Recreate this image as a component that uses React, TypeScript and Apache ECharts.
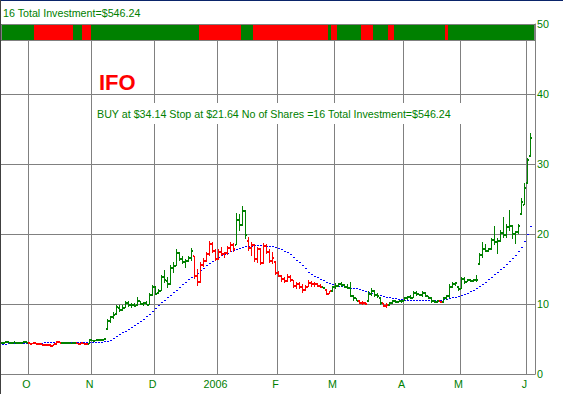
import React, { useEffect, useRef } from 'react';
import * as echarts from 'echarts';

// ---- axis / tick data ----
const slotCount = 178; // trading-day slots on the x axis
const monthStartIdx = [9, 30, 51, 72, 92, 111, 134, 153, 175];
const monthLabels = ['O', 'N', 'D', '2006', 'F', 'M', 'A', 'M', 'J'];
const yTicks = [0, 10, 20, 30, 40, 50];

// ---- price bars (one per trading day) ----
const opens = [
  4.4, 4.5, 4.6, 4.45, 4.5, 4.4, 4.45, 4.5, 4.6, 4.5,
  4.35, 4.4, 4.3, 4.35, 4.2, 4.1, 4.15, 4.0, 4.25, 4.6,
  4.5, 4.45, 4.5, 4.4, 4.45, 4.4, 4.3, 4.4, 4.3, 4.3,
  4.8, 4.75, 4.8, 4.85, 4.9, 6.5, 7.6, 8.1, 8.6, 9.4,
  9.2, 9.5, 10.2, 9.8, 9.9, 9.8, 10.4, 10.0, 10.1, 9.9,
  11.3, 12.4, 11.6, 11.9, 13.8, 13.3, 12.8, 15.2, 15.5, 17.3,
  16.4, 16.0, 16.2, 16.6, 16.8, 14.0, 13.2, 15.6, 16.2, 17.1,
  18.6, 17.6, 16.5, 17.4, 17.2, 17.3, 18.0, 18.5, 18.5, 22.0,
  21.3, 23.3, 19.0, 18.0, 18.5, 16.4, 17.8, 15.8, 18.3, 17.5,
  16.1, 16.0, 14.5, 14.0, 13.6, 13.3, 13.9, 13.4, 12.6, 12.9,
  12.4, 12.0, 12.5, 13.0, 12.8, 12.9, 12.6, 12.4, 12.0, 11.5,
  11.8, 12.4, 12.6, 12.8, 12.7, 12.5, 12.3, 11.2, 10.8, 10.5,
  10.2, 10.1, 10.4, 11.5, 11.9, 11.3, 10.8, 10.1, 9.7, 9.8,
  10.2, 10.4, 10.3, 10.4, 10.5, 10.8, 11.0, 10.9, 11.6, 11.4,
  11.3, 11.6, 11.1, 10.9, 10.4, 10.3, 10.4, 10.3, 10.8, 11.1,
  12.5, 12.9, 12.5, 12.2, 13.6, 13.2, 13.4, 13.3, 13.5, 15.7,
  17.0, 17.8, 17.6, 17.8, 19.2, 18.9, 19.0, 20.2, 19.8, 21.0,
  21.2, 20.0, 20.3, 22.8, 24.2, 27.3, 31.1,
];
const highs = [
  4.6, 4.7, 4.75, 4.6, 4.7, 4.55, 4.55, 4.65, 4.7, 4.55,
  4.5, 4.6, 4.45, 4.5, 4.3, 4.25, 4.3, 4.3, 4.7, 4.75,
  4.6, 4.55, 4.6, 4.5, 4.6, 4.5, 4.45, 4.5, 4.4, 4.95,
  4.9, 4.85, 4.95, 5.0, 5.1, 7.9, 8.3, 8.8, 9.9, 9.9,
  9.8, 10.5, 10.4, 10.1, 10.2, 11.0, 10.5, 10.3, 10.4, 11.6,
  12.7, 12.6, 12.1, 14.2, 14.9, 13.8, 15.6, 16.0, 17.8, 17.5,
  16.9, 16.4, 16.9, 18.0, 16.9, 15.0, 16.0, 16.6, 17.5, 19.0,
  18.9, 17.9, 17.8, 18.2, 17.5, 18.3, 18.9, 18.7, 23.0, 22.8,
  24.0, 23.5, 19.6, 18.8, 18.6, 18.2, 18.0, 18.7, 18.6, 17.8,
  17.5, 16.1, 14.7, 14.2, 13.8, 14.3, 14.2, 13.5, 13.2, 13.1,
  12.8, 12.7, 13.4, 13.3, 13.1, 13.0, 12.8, 12.5, 12.1, 11.9,
  12.6, 13.0, 13.0, 13.1, 12.9, 12.8, 13.2, 11.3, 10.9, 10.6,
  10.4, 10.3, 11.8, 12.3, 12.0, 11.6, 11.0, 10.2, 10.1, 10.3,
  10.6, 10.6, 10.5, 10.6, 11.0, 11.2, 11.3, 11.8, 11.8, 11.5,
  11.8, 11.7, 11.2, 11.0, 10.6, 10.6, 10.5, 11.0, 11.3, 12.8,
  13.1, 13.2, 12.6, 13.9, 13.9, 13.6, 13.6, 13.6, 14.2, 17.3,
  18.9, 18.6, 18.0, 19.5, 21.1, 19.5, 20.6, 22.5, 21.4, 23.5,
  21.3, 20.5, 21.5, 25.2, 27.3, 30.9, 34.4,
];
const lows = [
  4.3, 4.4, 4.4, 4.35, 4.4, 4.3, 4.35, 4.4, 4.45, 4.3,
  4.25, 4.3, 4.2, 4.15, 4.0, 3.95, 3.9, 3.95, 4.2, 4.4,
  4.35, 4.3, 4.35, 4.3, 4.35, 4.25, 4.2, 4.25, 4.2, 4.25,
  4.65, 4.65, 4.7, 4.75, 4.8, 6.3, 7.3, 7.9, 8.5, 8.9,
  9.0, 9.4, 9.6, 9.5, 9.6, 9.7, 9.8, 9.7, 9.8, 9.8,
  11.2, 11.3, 11.5, 11.8, 13.0, 12.3, 12.7, 14.4, 15.4, 16.1,
  15.7, 15.1, 16.0, 16.1, 13.6, 12.6, 13.0, 15.3, 16.0, 16.9,
  17.3, 16.2, 16.3, 16.9, 16.6, 17.0, 17.5, 17.4, 18.4, 20.4,
  21.2, 19.3, 17.6, 16.8, 16.0, 15.9, 15.6, 15.7, 17.1, 15.9,
  15.7, 14.2, 13.8, 13.2, 13.0, 13.1, 13.2, 12.3, 12.2, 12.2,
  11.6, 11.8, 12.4, 12.5, 12.4, 12.4, 12.3, 12.2, 11.3, 11.4,
  11.7, 12.1, 12.4, 12.5, 12.3, 12.1, 11.0, 10.5, 10.4, 10.0,
  9.9, 9.8, 10.3, 11.1, 11.0, 10.9, 9.9, 9.6, 9.5, 9.7,
  10.0, 10.1, 10.1, 10.2, 10.4, 10.6, 10.7, 10.8, 11.2, 11.1,
  11.0, 11.0, 10.7, 10.2, 10.1, 10.1, 10.2, 10.2, 10.6, 10.9,
  12.3, 12.6, 11.9, 12.1, 12.9, 13.1, 13.1, 13.1, 13.1, 15.6,
  16.6, 17.4, 17.4, 17.7, 18.5, 17.2, 18.9, 19.5, 19.5, 20.4,
  19.3, 18.6, 20.0, 22.7, 24.1, 27.2, 31.0,
];
const closes = [
  4.5, 4.6, 4.45, 4.5, 4.4, 4.45, 4.5, 4.6, 4.5, 4.35,
  4.4, 4.3, 4.35, 4.2, 4.1, 4.15, 4.0, 4.25, 4.6, 4.5,
  4.45, 4.5, 4.4, 4.45, 4.4, 4.3, 4.4, 4.3, 4.25, 4.8,
  4.75, 4.8, 4.85, 4.9, 5.0, 7.6, 8.1, 8.5, 9.6, 9.2,
  9.5, 10.2, 9.8, 9.9, 9.7, 10.4, 10.0, 10.1, 9.9, 11.3,
  12.5, 11.5, 11.9, 13.8, 13.4, 12.8, 15.2, 15.5, 17.3, 16.4,
  16.0, 16.2, 16.6, 17.6, 14.0, 13.2, 15.6, 16.2, 17.1, 18.6,
  17.6, 16.5, 17.4, 17.2, 17.3, 18.0, 18.5, 17.9, 22.0, 21.3,
  23.3, 19.8, 18.0, 18.5, 16.4, 17.8, 15.8, 18.3, 17.5, 16.1,
  16.6, 14.5, 14.0, 13.6, 13.3, 13.9, 13.4, 12.6, 12.9, 12.4,
  12.0, 12.5, 13.0, 12.8, 12.9, 12.6, 12.4, 12.3, 11.5, 11.8,
  12.4, 12.6, 12.8, 12.7, 12.5, 12.3, 11.2, 10.8, 10.5, 10.2,
  10.1, 10.0, 11.5, 11.9, 11.3, 11.1, 10.1, 9.7, 9.8, 10.2,
  10.4, 10.3, 10.4, 10.5, 10.8, 11.0, 10.9, 11.6, 11.4, 11.3,
  11.6, 11.1, 10.9, 10.4, 10.3, 10.4, 10.3, 10.8, 11.1, 12.5,
  12.9, 13.0, 12.2, 13.6, 13.2, 13.4, 13.3, 13.5, 13.4, 17.0,
  17.8, 17.6, 17.8, 19.2, 18.9, 19.0, 20.2, 19.8, 21.0, 21.2,
  20.0, 20.3, 21.2, 24.6, 26.6, 30.6, 33.7,
];

// ---- moving average (blue dotted line) ----
const movingAvg = [
  4.2, 4.21, 4.22, 4.23, 4.24, 4.25, 4.26, 4.27, 4.28, 4.3,
  4.31, 4.32, 4.33, 4.35, 4.37, 4.38, 4.4, 4.4, 4.41, 4.41,
  4.41, 4.42, 4.42, 4.42, 4.42, 4.42, 4.42, 4.42, 4.42, 4.42,
  4.43, 4.44, 4.45, 4.48, 4.52, 4.58, 4.75, 5.0, 5.3, 5.55,
  5.8, 6.05, 6.3, 6.6, 6.85, 7.15, 7.45, 7.75, 8.1, 8.5,
  8.9, 9.25, 9.65, 10.1, 10.5, 10.85, 11.2, 11.55, 11.9, 12.25,
  12.7, 13.05, 13.4, 13.75, 14.05, 14.35, 14.7, 15.05, 15.4, 15.75,
  16.0, 16.25, 16.55, 16.8, 17.0, 17.2, 17.4, 17.6, 17.75, 17.9,
  18.0, 18.1, 18.2, 18.2, 18.25, 18.25, 18.25, 18.25, 18.2, 18.2,
  18.1, 18.0, 17.85, 17.7, 17.5, 17.3, 17.0, 16.6, 16.2, 15.85,
  15.4, 14.95, 14.5, 14.15, 13.9, 13.65, 13.45, 13.25, 13.0, 12.8,
  12.65, 12.55, 12.5, 12.4, 12.35, 12.3, 12.2, 12.15, 12.1, 12.0,
  11.85, 11.7, 11.55, 11.45, 11.35, 11.2, 11.1, 11.0, 10.9, 10.85,
  10.75, 10.65, 10.6, 10.55, 10.5, 10.5, 10.45, 10.45, 10.45, 10.45,
  10.45, 10.45, 10.45, 10.45, 10.45, 10.45, 10.5, 10.55, 10.6, 10.7,
  10.8, 10.9, 11.05, 11.2, 11.35, 11.5, 11.65, 11.85, 12.1, 12.4,
  12.7, 13.05, 13.4, 13.75, 14.15, 14.5, 14.85, 15.2, 15.6, 16.0,
  16.4, 16.9, 17.4, 18.0, 18.9, 19.8, 21.0,
];

// ---- signal ranges (bar index ranges that are red / bearish) ----
const barRedRanges = [[9, 19], [25, 28], [64, 77], [82, 106], [108, 109], [119, 121], [127, 128], [146, 146]];
const stripRedRanges = [[11, 23], [27, 29], [66, 79], [84, 108], [110, 111], [120, 123], [129, 130], [148, 148]];
const stripTop = 50;
const stripBottom = 47.6;

// ---- texts ----
const headerText = '16 Total Investment=$546.24';
const tickerText = 'IFO';
const signalText = 'BUY at $34.14 Stop at $21.64 No of Shares =16 Total Investment=$546.24';

const GREEN = '#008000';
const RED = '#ff0000';
const GRID = '#808080';
const FONT = '"Liberation Sans", Arial, sans-serif';

const inRanges = (i: number, ranges: number[][]) => ranges.some(([a, b]) => i >= a && i <= b);

export default function App() {
  const ref = useRef<HTMLDivElement>(null);

  useEffect(() => {
    if (!ref.current) return;
    const chart = echarts.init(ref.current, undefined, { renderer: 'svg' });
    const categories = Array.from({ length: slotCount }, (_, i) => String(i));
    const isMonthStart = (idx: number) => monthStartIdx.includes(idx);

    const option: any = {
      animation: false,
      backgroundColor: '#ffffff',
      grid: { left: 1, right: 28, top: 24, bottom: 20, show: false },
      xAxis: {
        type: 'category',
        data: categories,
        boundaryGap: true,
        axisLine: { show: true, lineStyle: { color: GRID, width: 1 } },
        axisTick: { show: false },
        splitLine: { show: true, interval: (idx: number) => isMonthStart(idx), lineStyle: { color: GRID, width: 1 } },
        axisLabel: {
          interval: (idx: number) => isMonthStart(idx),
          formatter: (_v: string, idx: number) => {
            const k = monthStartIdx.indexOf(idx);
            return k >= 0 ? monthLabels[k] : '';
          },
          color: GREEN,
          fontFamily: FONT,
          fontSize: 10.7,
          margin: 4,
          padding: [0, 6, 0, 0],
        },
      },
      yAxis: {
        type: 'value',
        position: 'right',
        min: yTicks[0],
        max: yTicks[yTicks.length - 1],
        interval: 10,
        axisLine: { show: true, lineStyle: { color: GRID, width: 1 } },
        axisTick: { show: false },
        splitLine: { show: true, lineStyle: { color: GRID, width: 1 } },
        axisLabel: { color: GREEN, fontFamily: FONT, fontSize: 10.7, margin: 2 },
      },
      series: [
        {
          type: 'custom',
          name: 'strip',
          z: 3,
          data: categories.map((_, j) => [j, stripTop, stripBottom]),
          encode: { x: 0, y: [1, 2] },
          renderItem: (params: any, api: any) => {
            const j = api.value(0);
            const pT = api.coord([j, api.value(1)]);
            const pB = api.coord([j, api.value(2)]);
            const w = api.size([1, 0])[0];
            const children: any[] = [
              {
                type: 'rect',
                shape: { x: pT[0] - w / 2, y: pT[1], width: w, height: pB[1] - pT[1] },
                style: { fill: inRanges(j, stripRedRanges) ? RED : GREEN },
              },
            ];
            if (j === slotCount - 1) {
              const cs = params.coordSys;
              children.push({
                type: 'rect',
                shape: { x: cs.x + 0.5, y: Math.round(pT[1]) + 0.5, width: cs.width - 1, height: Math.round(pB[1] - pT[1]) - 1 },
                style: { fill: 'none', stroke: GRID, lineWidth: 1 },
              });
            }
            return { type: 'group', children };
          },
        },
        {
          type: 'custom',
          name: 'MA',
          z: 4,
          data: movingAvg.map((v, i) => [i, v]),
          encode: { x: 0, y: 1 },
          renderItem: (_params: any, api: any) => {
            const p = api.coord([api.value(0), api.value(1)]);
            const x0 = Math.floor(p[0]);
            return {
              type: 'rect',
              shape: { x: x0, y: Math.round(p[1]) - 1, width: 2, height: 1 },
              style: { fill: '#0000ff' },
            };
          },
        },
        {
          type: 'custom',
          name: 'price',
          z: 5,
          data: opens.map((o, i) => [i, o, highs[i], lows[i], closes[i]]),
          encode: { x: 0, y: [1, 2, 3, 4] },
          renderItem: (_params: any, api: any) => {
            const i = api.value(0);
            const pH = api.coord([i, api.value(2)]);
            const pL = api.coord([i, api.value(3)]);
            const yO = api.coord([i, api.value(1)])[1];
            const yC = api.coord([i, api.value(4)])[1];
            const x0 = Math.floor(pH[0]);
            const color = inRanges(i, barRedRanges) ? RED : GREEN;
            const top = Math.round(pH[1]);
            const h = Math.max(1, Math.round(pL[1]) - top);
            return {
              type: 'group',
              children: [
                { type: 'rect', shape: { x: x0, y: top, width: 1, height: h }, style: { fill: color } },
                { type: 'rect', shape: { x: x0 - 1, y: Math.round(yO) - 1, width: 1, height: 2 }, style: { fill: color } },
                { type: 'rect', shape: { x: x0 + 1, y: Math.round(yC) - 1, width: 1, height: 2 }, style: { fill: color } },
              ],
            };
          },
        },
      ],
      graphic: [
        { type: 'rect', z: 100, shape: { x: 0, y: 0, width: 563, height: 1 }, style: { fill: '#0a246a' } },
        { type: 'rect', z: 100, shape: { x: 0, y: 0, width: 1, height: 394 }, style: { fill: '#404040' } },
        {
          type: 'text', z: 100, x: 3, y: 13,
          style: { text: headerText, fill: GREEN, font: `10.7px ${FONT}`, align: 'left', verticalAlign: 'middle', textAlign: 'left', textVerticalAlign: 'middle' },
        },
        {
          type: 'text', z: 100, x: 99, y: 82,
          style: { text: tickerText, fill: RED, font: `bold 22px ${FONT}`, align: 'left', verticalAlign: 'middle', textAlign: 'left', textVerticalAlign: 'middle' },
        },
        { type: 'rect', z: 99, shape: { x: 95, y: 103, width: 366, height: 21 }, style: { fill: '#ffffff' } },
        {
          type: 'text', z: 100, x: 97, y: 114,
          style: { text: signalText, fill: GREEN, font: `10.7px ${FONT}`, align: 'left', verticalAlign: 'middle', textAlign: 'left', textVerticalAlign: 'middle' },
        },
      ],
    };

    chart.setOption(option);
    return () => chart.dispose();
  }, []);

  return (
    <div
      ref={ref}
      style={{ position: 'fixed', left: 0, top: 0, width: 563, height: 394, background: '#fff' }}
    />
  );
}
